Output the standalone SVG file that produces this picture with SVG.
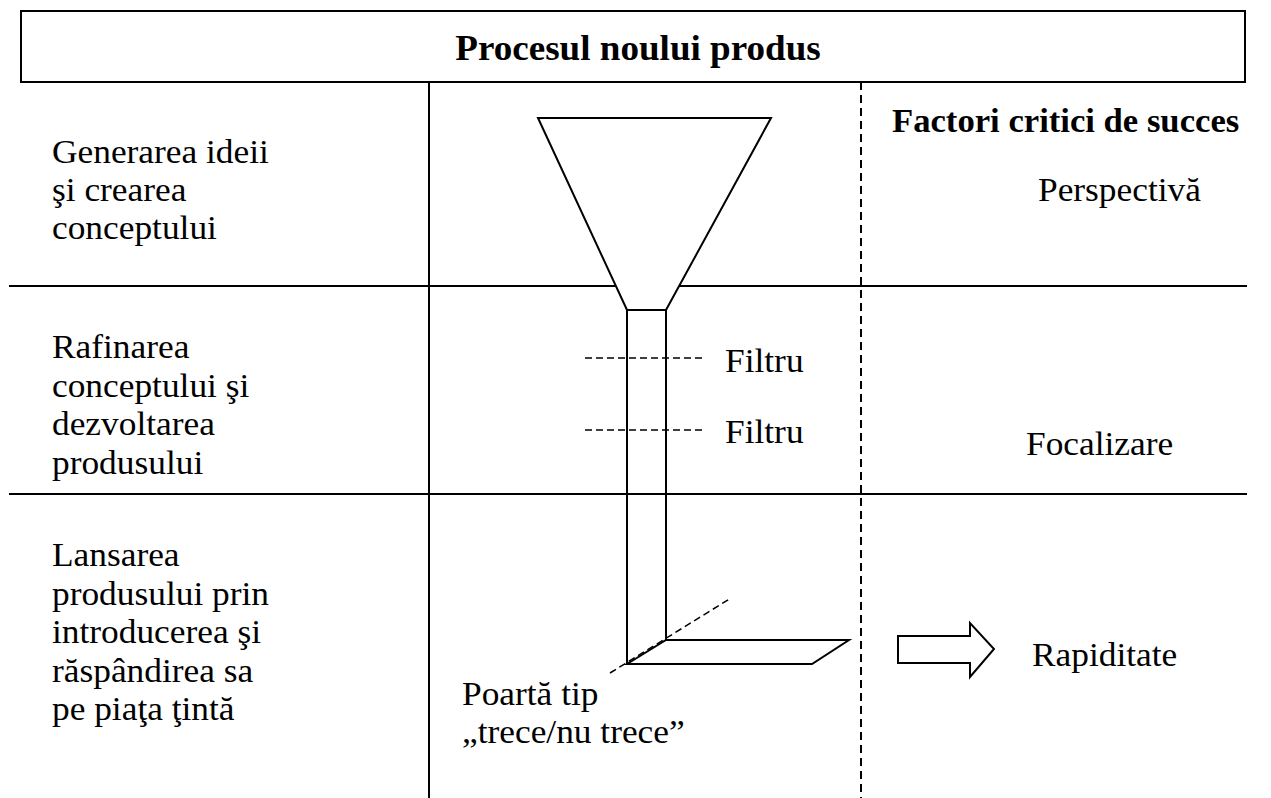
<svg xmlns="http://www.w3.org/2000/svg" width="1271" height="798" viewBox="0 0 1271 798">
<style>
.t{font-family:"Liberation Serif","Times New Roman",serif;font-size:34px;fill:#000}
.b{font-family:"Liberation Serif","Times New Roman",serif;font-weight:bold;fill:#000}
.ln{stroke:#000;stroke-width:2;fill:none}
.sh{stroke:#000;stroke-width:2;fill:#fff;stroke-linejoin:miter}
.dv{stroke:#000;stroke-width:2;stroke-dasharray:8,5;fill:none}
.df{stroke:#000;stroke-width:1.5;stroke-dasharray:7,4;fill:none}
</style>
<rect width="1271" height="798" fill="#fff"/>
<g id="grid">
<rect x="21" y="11" width="1224" height="71" class="ln"/>
<line x1="9" y1="286" x2="1247" y2="286" class="ln"/>
<line x1="9" y1="494" x2="1247" y2="494" class="ln"/>
<line x1="429" y1="82" x2="429" y2="798" class="ln"/>
<line x1="861" y1="82" x2="861" y2="798" class="dv"/>
</g>
<g id="title">
<text class="b" font-size="35" text-anchor="middle" transform="translate(638,60) scale(1.06,1)">Procesul noului produs</text>
</g>
<g id="stage1">
<text class="t" transform="translate(52,163) scale(1.04,1)">Generarea ideii</text>
<text class="t" transform="translate(52,201) scale(1.04,1)">şi crearea</text>
<text class="t" transform="translate(52,239) scale(1.04,1)">conceptului</text>
</g>
<g id="stage2">
<text class="t" transform="translate(52,358) scale(1.04,1)">Rafinarea</text>
<text class="t" transform="translate(52,397) scale(1.04,1)">conceptului şi</text>
<text class="t" transform="translate(52,435) scale(1.04,1)">dezvoltarea</text>
<text class="t" transform="translate(52,474) scale(1.04,1)">produsului</text>
</g>
<g id="stage3">
<text class="t" transform="translate(52,566) scale(1.04,1)">Lansarea</text>
<text class="t" transform="translate(52,605) scale(1.04,1)">produsului prin</text>
<text class="t" transform="translate(52,643) scale(1.04,1)">introducerea şi</text>
<text class="t" transform="translate(52,682) scale(1.04,1)">răspândirea sa</text>
<text class="t" transform="translate(52,720) scale(1.04,1)">pe piaţa ţintă</text>
</g>
<g id="funnel">
<polygon points="538,118 771,118 666,310 627,310" class="sh"/>
<path d="M627,310 L627,664 M666,310 L666,640" class="ln"/>
</g>
<g id="filters">
<line x1="585" y1="358" x2="704" y2="358" class="df"/>
<line x1="585" y1="430" x2="704" y2="430" class="df"/>
<text class="t" transform="translate(725,372) scale(1.04,1)">Filtru</text>
<text class="t" transform="translate(725,443) scale(1.04,1)">Filtru</text>
</g>
<g id="gate">
<polygon points="627,664 666,640 849,640 812,664" class="sh"/>
<line x1="610" y1="673" x2="731" y2="598" class="df"/>
<text class="t" transform="translate(462,705) scale(1.04,1)">Poartă tip</text>
<text class="t" transform="translate(462,743) scale(1.04,1)">„trece/nu trece”</text>
</g>
<g id="connectors">
<polygon points="898,636 970,636 970,623 994,649 970,677 970,663 898,663" class="sh"/>
</g>
<g id="factors">
<text class="b" font-size="33" transform="translate(892,132) scale(1.05,1)">Factori critici de succes</text>
<text class="t" transform="translate(1038,201) scale(1.04,1)">Perspectivă</text>
<text class="t" transform="translate(1026,455) scale(1.04,1)">Focalizare</text>
<text class="t" transform="translate(1032,666) scale(1.04,1)">Rapiditate</text>
</g>
</svg>
